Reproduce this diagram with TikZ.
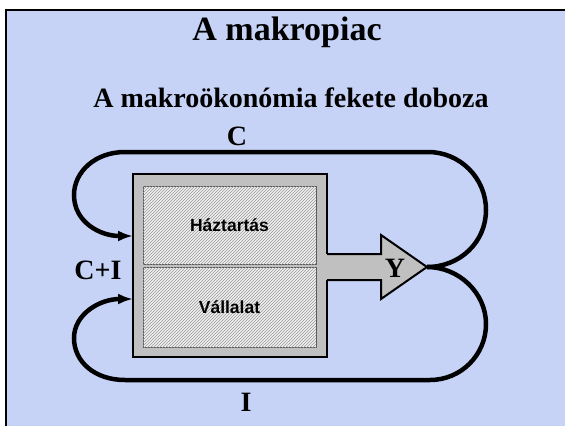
\documentclass[tikz,border=0pt]{standalone}
\usepackage{fontspec}
\setmainfont{Liberation Serif}
\newfontfamily\arialfont{Liberation Sans}
\usetikzlibrary{arrows.meta, patterns}
\definecolor{slideblue}{RGB}{198,211,246}
\definecolor{boxgray}{RGB}{192,192,192}

\begin{document}
\begin{tikzpicture}[x=1pt, y=-1pt,
               sector/.style ={draw=black!65, line width=1pt, fill=black!6,
               postaction={pattern=north east lines, pattern color=black!40},
               minimum width=173pt, inner sep=0pt, font=\arialfont\bfseries\fontsize{17.5}{20}\selectfont},
               flowlabel/.style ={inner sep=0pt, font=\bfseries\fontsize{28}{32}\selectfont},
               flow/.style ={line width=4.5pt, -{Latex[length=15pt, width=11pt]}}]

           \useasboundingbox (0,0) rectangle (565,426);

           % hatter es keret
           \fill[white] (0,0) rectangle (565,426);
           \fill[slideblue] (6,10) rectangle (565,426);
           \draw[line width=2.5pt] (6,426) -- (6,10) -- (565,10);

           \node[inner sep=0pt, font=\bfseries\fontsize{34}{38}\selectfont] (title) at (287,32) {A makropiac};
           \node[inner sep=0pt, font=\bfseries\fontsize{28}{32}\selectfont] (subtitle) at (291,98) {A makroökonómia fekete doboza};

           % a fekete doboz
           \node[draw, line width=2pt, fill=boxgray, minimum width=194pt, minimum height=183pt] (blackbox) at (230,265.5) {};
           \node[sector, minimum height=78pt] (haztartas) at (229.5,225) {Háztartás};
           \node[sector, minimum height=80pt] (vallalat) at (229.5,307) {Vállalat};

           % kimeno nyil
           \coordinate (tip) at (427,267);
           \fill[boxgray] (324,254) -- (381,254) -- (381,235) -- (tip) -- (381,299) -- (381,280) -- (324,280) -- cycle;
           \draw[line width=2pt, line join=miter] (327,254) -- (381,254) -- (381,235) -- (tip) -- (381,299) -- (381,280) -- (327,280);
           \node[flowlabel] (y) at (395,268) {Y};

           \coordinate (inC) at (133,236);
           \coordinate (inI) at (133,299);

           \draw[flow] (tip) .. controls (460,267) and (486,242) .. (486,210)
               .. controls (486,178) and (460,152) .. (428,152) -- (125,152)
               .. controls (95,152) and (74,172) .. (74,195)
               .. controls (74,222) and (100,236) .. (inC);
           \draw[flow] (tip) .. controls (459,267) and (486,293) .. (486,324)
               .. controls (486,355) and (461,380) .. (430,380) -- (125,380)
               .. controls (95,380) and (74,362) .. (74,338)
               .. controls (74,314) and (100,299) .. (inI);

           \node[flowlabel] (c) at (237,136) {C};
           \node[flowlabel] (ci) at (98,270) {C+I};
           \node[flowlabel] (i) at (246,402) {I};

       \end{tikzpicture}
\end{document}
